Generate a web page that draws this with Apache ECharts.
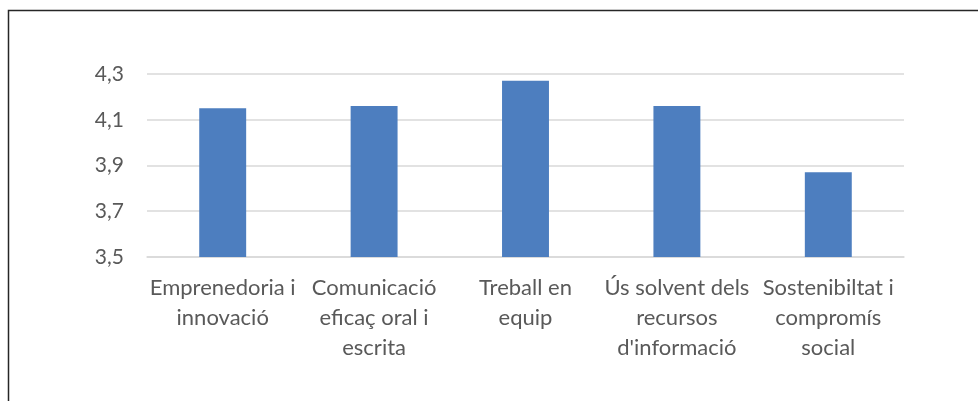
<!DOCTYPE html>
<html><head><meta charset="utf-8">
<script src="https://cdn.jsdelivr.net/npm/echarts@6/dist/echarts.min.js"></script>
<style>html,body{margin:0;padding:0;background:#fff}#c{width:978px;height:401px}</style>
</head><body><div id="c"></div>
<script>
var categories = ["Emprenedoria i\ninnovació", "Comunicació\neficaç oral i\nescrita", "Treball en\nequip", "Ús solvent dels\nrecursos\nd'informació", "Sostenibiltat i\ncompromís\nsocial"];
var values = [4.15, 4.16, 4.27, 4.16, 3.87];
var yMin = 3.5, yMax = 4.3, yStep = 0.2;

var chart = echarts.init(document.getElementById('c'), null, {renderer: 'canvas'});
chart.setOption({
  animation: false,
  backgroundColor: '#fff',
  grid: {left: 147, right: 74, top: 74, bottom: 144},
  graphic: [{
    type: 'rect', silent: true,
    shape: {x: 8.5, y: 10.5, width: 1100, height: 600},
    style: {fill: 'none', stroke: '#262626', lineWidth: 1.5}
  }],
  xAxis: {
    type: 'category', data: categories,
    axisLine: {show: true, lineStyle: {color: '#d9d9d9', width: 1.5}},
    axisTick: {show: false},
    axisLabel: {interval: 0, color: '#595959', fontFamily: 'Lato', fontSize: 22, lineHeight: 30, margin: 16}
  },
  yAxis: {
    type: 'value', min: yMin, max: yMax, interval: yStep,
    axisLine: {show: false}, axisTick: {show: false},
    splitLine: {lineStyle: {color: '#d9d9d9', width: 1.5}},
    axisLabel: {color: '#595959', fontFamily: 'Lato', fontSize: 21, margin: 23,
      formatter: function (v) { return v.toFixed(1).replace('.', ','); }}
  },
  series: [{
    type: 'bar', data: values, barWidth: '31%',
    itemStyle: {color: '#4d7ebf'}
  }]
});
</script></body></html>
